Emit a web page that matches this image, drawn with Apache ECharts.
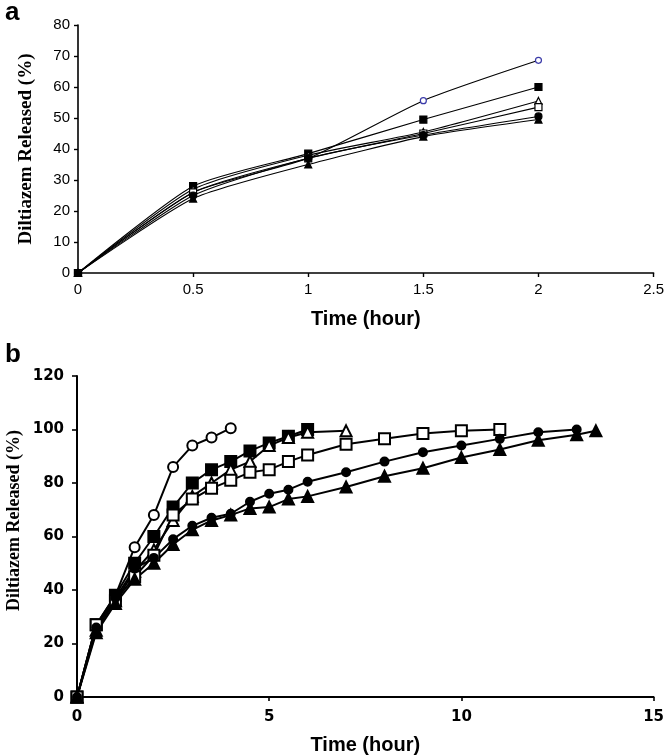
<!DOCTYPE html>
<html>
<head>
<meta charset="utf-8">
<script src="https://cdn.jsdelivr.net/npm/echarts@6/dist/echarts.min.js"></script>
<style>html,body{margin:0;padding:0;background:#fff}#c{width:667px;height:756px}</style>
</head>
<body>
<div id="c"></div>
<script>
// ---- Panel a data ----
var timeA = [0, 0.5, 1, 1.5, 2];
var aOpenCircle   = [0, 26, 37, 55.6, 68.6];
var aFilledSquare = [0, 28, 38.5, 49.5, 60];
var aOpenTriangle = [0, 27, 38, 45.5, 55.5];
var aOpenSquare   = [0, 26, 37, 45, 53.5];
var aFilledCircle = [0, 25, 37, 44.5, 50.5];
var aFilledTri    = [0, 24, 35, 44, 49.5];

// ---- Panel b data ----
var tOpenCircle   = [0, 0.5, 1, 1.5, 2, 2.5, 3, 3.5, 4];
var bOpenCircle   = [0, 27, 38, 56, 68, 86, 94, 97, 100.5];
var tFilledSquare = [0, 0.5, 1, 1.5, 2, 2.5, 3, 3.5, 4, 4.5, 5, 5.5, 6];
var bFilledSquare = [0, 27, 38, 50, 60, 71, 80, 85, 88, 92, 95, 97.5, 100];
var tOpenTriangle = [0, 0.5, 1, 1.5, 2, 2.5, 3, 3.5, 4, 4.5, 5, 5.5, 6, 7];
var bOpenTriangle = [0, 25, 36, 47, 55, 66, 75, 80, 85, 88, 94, 97, 99, 99.5];
var tOpenSquare   = [0, 0.5, 1, 1.5, 2, 2.5, 3, 3.5, 4, 4.5, 5, 5.5, 6, 7, 8, 9, 10, 11];
var bOpenSquare   = [0, 27, 36, 45, 53, 68, 74, 78, 81, 84, 85, 88, 90.5, 94.5, 96.5, 98.5, 99.5, 100];
var tFilledCircle = [0, 0.5, 1, 1.5, 2, 2.5, 3, 3.5, 4, 4.5, 5, 5.5, 6, 7, 8, 9, 10, 11, 12, 13];
var bFilledCircle = [0, 26, 37, 48, 52, 59, 64, 67, 68.5, 73, 76, 77.5, 80.5, 84, 88, 91.5, 94, 96.5, 99, 100];
var tFilledTri    = [0, 0.5, 1, 1.5, 2, 2.5, 3, 3.5, 4, 4.5, 5, 5.5, 6, 7, 8, 9, 10, 11, 12, 13, 13.5];
var bFilledTri    = [0, 24, 35, 44, 50, 57, 62.5, 66, 68, 70.5, 71, 74, 75, 78.5, 82.5, 85.5, 89.5, 92.5, 96, 98, 99.5];

// ---- Titles ----
var yTitle = 'Diltiazem Released (%)';
var xTitle = 'Time (hour)';

function pairs(t, v) { return t.map(function (x, i) { return [x, v[i]]; }); }

var markers = [
  {sym: 'circle',   fill: '#fff', stroke: '#000'},
  {sym: 'rect',     fill: '#000', stroke: '#000'},
  {sym: 'triangle', fill: '#fff', stroke: '#000'},
  {sym: 'rect',     fill: '#fff', stroke: '#000'},
  {sym: 'circle',   fill: '#000', stroke: '#000'},
  {sym: 'triangle', fill: '#000', stroke: '#000'}
];

var aSets = [aOpenCircle, aFilledSquare, aOpenTriangle, aOpenSquare, aFilledCircle, aFilledTri];
var bSets = [
  [tOpenCircle, bOpenCircle], [tFilledSquare, bFilledSquare], [tOpenTriangle, bOpenTriangle],
  [tOpenSquare, bOpenSquare], [tFilledCircle, bFilledCircle], [tFilledTri, bFilledTri]
];

var series = [];
aSets.forEach(function (vals, i) {
  var m = markers[i];
  series.push({
    type: 'line', xAxisIndex: 0, yAxisIndex: 0, smooth: 0.2,
    data: pairs(timeA, vals), symbol: m.sym, symbolSize: i === 0 ? 6 : 7,
    lineStyle: {color: '#000', width: 1.1},
    itemStyle: {color: m.fill, borderColor: i === 0 ? '#3a3aa8' : m.stroke, borderWidth: 1.2},
    emphasis: {disabled: true}, animation: false
  });
});
bSets.forEach(function (tv, i) {
  var m = markers[i];
  var size = (i === 4) ? 8 : (i === 0 ? 10 : 11);
  series.push({
    type: 'line', xAxisIndex: 1, yAxisIndex: 1,
    data: pairs(tv[0], tv[1]), symbol: m.sym, symbolSize: size,
    lineStyle: {color: '#000', width: 2},
    itemStyle: {color: m.fill, borderColor: m.stroke, borderWidth: 2},
    emphasis: {disabled: true}, animation: false
  });
});

var chart = echarts.init(document.getElementById('c'), null, {renderer: 'canvas'});
chart.setOption({
  backgroundColor: '#fff',
  animation: false,
  title: [
    {text: 'a', left: 0, top: -5, textStyle: {fontFamily: 'Liberation Sans', fontWeight: 'bold', fontSize: 26, color: '#000'}},
    {text: 'b', left: 0, top: 337, textStyle: {fontFamily: 'Liberation Sans', fontWeight: 'bold', fontSize: 26, color: '#000'}}
  ],
  graphic: [
    {type: 'text', left: 5, top: 430, rotation: Math.PI / 2,
     style: {text: yTitle, fontFamily: 'Liberation Serif', fontWeight: 'bold', fontSize: 18, fill: '#000',
             textAlign: 'center', textVerticalAlign: 'middle'},
     x: 15, y: 520, silent: true}
  ],
  grid: [
    {left: 78, right: 13, top: 25, height: 248},
    {left: 77, right: 11, top: 376, height: 324}
  ],
  xAxis: [
    {gridIndex: 0, type: 'value', min: 0, max: 2.5, interval: 0.5,
     name: xTitle, nameLocation: 'middle', nameGap: 36,
     nameTextStyle: {fontFamily: 'Liberation Sans', fontWeight: 'bold', fontSize: 20, color: '#000'},
     axisLine: {lineStyle: {color: '#000', width: 1.6}}, axisTick: {show: true, length: 4, lineStyle: {color: '#000', width: 1.4}},
     axisLabel: {fontFamily: 'Liberation Sans', fontSize: 15, color: '#000', margin: 9},
     splitLine: {show: false}},
    {gridIndex: 1, type: 'value', min: 0, max: 15, interval: 5,
     name: xTitle, nameLocation: 'middle', nameGap: 38,
     nameTextStyle: {fontFamily: 'Liberation Sans', fontWeight: 'bold', fontSize: 20, color: '#000'},
     axisLine: {lineStyle: {color: '#000', width: 2}}, axisTick: {show: true, length: 4, lineStyle: {color: '#000', width: 1.6}},
     axisLabel: {fontFamily: 'DejaVu Sans', fontWeight: 'bold', fontSize: 15, color: '#000', margin: 13},
     splitLine: {show: false}}
  ],
  yAxis: [
    {gridIndex: 0, type: 'value', min: 0, max: 80, interval: 10,
     name: yTitle, nameLocation: 'middle', nameGap: 42,
     nameTextStyle: {fontFamily: 'Liberation Serif', fontWeight: 'bold', fontSize: 19, color: '#000'},
     axisLine: {show: true, lineStyle: {color: '#000', width: 1.6}}, axisTick: {show: true, length: 4, lineStyle: {color: '#000', width: 1.4}},
     axisLabel: {fontFamily: 'Liberation Sans', fontSize: 15, color: '#000', margin: 8},
     splitLine: {show: false}},
    {gridIndex: 1, type: 'value', min: 0, max: 120, interval: 20,
     axisLine: {show: true, lineStyle: {color: '#000', width: 2}}, axisTick: {show: true, length: 5, lineStyle: {color: '#000', width: 1.6}},
     axisLabel: {fontFamily: 'DejaVu Sans', fontWeight: 'bold', fontSize: 15, color: '#000', margin: 13},
     splitLine: {show: false}}
  ],
  series: series
});
</script>
</body>
</html>
